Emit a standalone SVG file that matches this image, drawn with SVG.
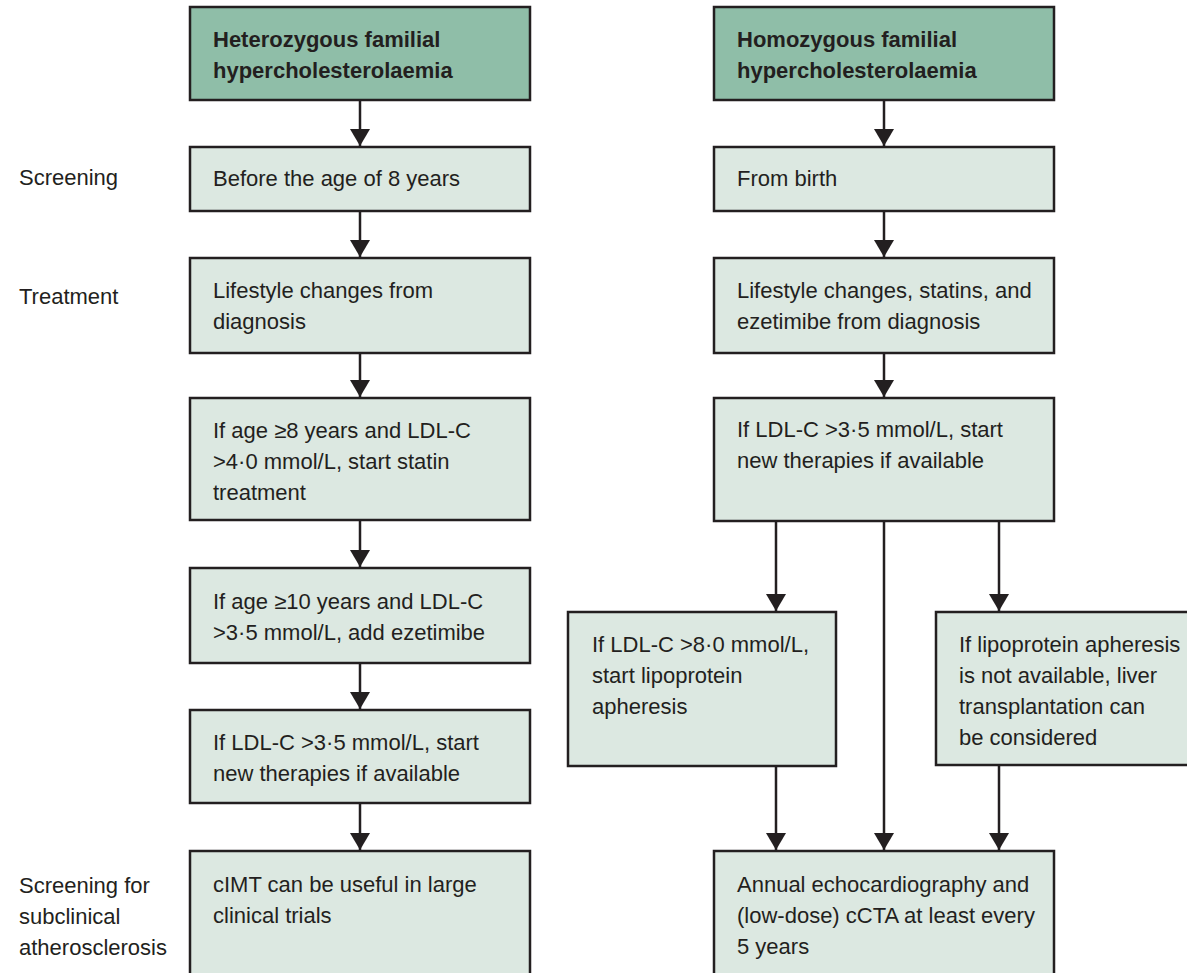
<svg xmlns="http://www.w3.org/2000/svg" width="1187" height="973" viewBox="0 0 1187 973">
<style>
  text { font-family: "Liberation Sans", Arial, sans-serif; font-size: 22px; fill: #231f20; }
  .hd { fill: #8fbea8; stroke: #231f20; stroke-width: 2.5; }
  .bx { fill: #dce8e1; stroke: #231f20; stroke-width: 2.5; }
  .b { font-weight: bold; }
  .ln { stroke: #231f20; stroke-width: 2.5; fill: none; }
</style>
<defs>
  <marker id="ah" markerUnits="userSpaceOnUse" markerWidth="17" markerHeight="20" refX="17" refY="10" orient="auto" viewBox="0 0 17 20">
    <path d="M0,0 L17,10 L0,20 Z" fill="#231f20"/>
  </marker>
</defs>
<rect width="1187" height="973" fill="#ffffff"/>

<g id="labels">
  <text x="19" y="185">Screening</text>
  <text x="19" y="304">Treatment</text>
  <text x="19" y="893">Screening for</text>
  <text x="19" y="924">subclinical</text>
  <text x="19" y="955">atherosclerosis</text>
</g>

<g id="connectors">
  <line class="ln" x1="360" y1="100" x2="360" y2="146" marker-end="url(#ah)"/>
  <line class="ln" x1="360" y1="211" x2="360" y2="257" marker-end="url(#ah)"/>
  <line class="ln" x1="360" y1="353" x2="360" y2="397" marker-end="url(#ah)"/>
  <line class="ln" x1="360" y1="520" x2="360" y2="567" marker-end="url(#ah)"/>
  <line class="ln" x1="360" y1="663" x2="360" y2="709" marker-end="url(#ah)"/>
  <line class="ln" x1="360" y1="803" x2="360" y2="850" marker-end="url(#ah)"/>
  <line class="ln" x1="884" y1="100" x2="884" y2="146" marker-end="url(#ah)"/>
  <line class="ln" x1="884" y1="211" x2="884" y2="257" marker-end="url(#ah)"/>
  <line class="ln" x1="884" y1="353" x2="884" y2="397" marker-end="url(#ah)"/>
  <line class="ln" x1="776" y1="521" x2="776" y2="611" marker-end="url(#ah)"/>
  <line class="ln" x1="999" y1="521" x2="999" y2="611" marker-end="url(#ah)"/>
  <line class="ln" x1="776" y1="766" x2="776" y2="850" marker-end="url(#ah)"/>
  <line class="ln" x1="884" y1="521" x2="884" y2="850" marker-end="url(#ah)"/>
  <line class="ln" x1="999" y1="765" x2="999" y2="850" marker-end="url(#ah)"/>
</g>

<g id="het-header">
  <rect class="hd" x="190" y="7" width="340" height="93"/>
  <text class="b" x="213" y="47">Heterozygous familial</text>
  <text class="b" x="213" y="78">hypercholesterolaemia</text>
</g>
<g id="het-screening">
  <rect class="bx" x="190" y="147" width="340" height="64"/>
  <text x="213" y="186">Before the age of 8 years</text>
</g>
<g id="het-lifestyle">
  <rect class="bx" x="190" y="258" width="340" height="95"/>
  <text x="213" y="298">Lifestyle changes from</text>
  <text x="213" y="329">diagnosis</text>
</g>
<g id="het-statin">
  <rect class="bx" x="190" y="398" width="340" height="122"/>
  <text x="213" y="438">If age ≥8 years and LDL-C</text>
  <text x="213" y="469">&gt;4·0 mmol/L, start statin</text>
  <text x="213" y="500">treatment</text>
</g>
<g id="het-ezetimibe">
  <rect class="bx" x="190" y="568" width="340" height="95"/>
  <text x="213" y="609">If age ≥10 years and LDL-C</text>
  <text x="213" y="640">&gt;3·5 mmol/L, add ezetimibe</text>
</g>
<g id="het-new">
  <rect class="bx" x="190" y="710" width="340" height="93"/>
  <text x="213" y="750">If LDL-C &gt;3·5 mmol/L, start</text>
  <text x="213" y="781">new therapies if available</text>
</g>
<g id="het-cimt">
  <rect class="bx" x="190" y="851" width="340" height="140"/>
  <text x="213" y="892">cIMT can be useful in large</text>
  <text x="213" y="923">clinical trials</text>
</g>

<g id="hom-header">
  <rect class="hd" x="714" y="7" width="340" height="93"/>
  <text class="b" x="737" y="47">Homozygous familial</text>
  <text class="b" x="737" y="78">hypercholesterolaemia</text>
</g>
<g id="hom-screening">
  <rect class="bx" x="714" y="147" width="340" height="64"/>
  <text x="737" y="186">From birth</text>
</g>
<g id="hom-lifestyle">
  <rect class="bx" x="714" y="258" width="340" height="95"/>
  <text x="737" y="298">Lifestyle changes, statins, and</text>
  <text x="737" y="329">ezetimibe from diagnosis</text>
</g>
<g id="hom-new">
  <rect class="bx" x="714" y="398" width="340" height="123"/>
  <text x="737" y="437">If LDL-C &gt;3·5 mmol/L, start</text>
  <text x="737" y="468">new therapies if available</text>
</g>
<g id="hom-apheresis">
  <rect class="bx" x="568" y="612" width="268" height="154"/>
  <text x="592" y="652">If LDL-C &gt;8·0 mmol/L,</text>
  <text x="592" y="683">start lipoprotein</text>
  <text x="592" y="714">apheresis</text>
</g>
<g id="hom-liver">
  <rect class="bx" x="936" y="612" width="270" height="153"/>
  <text x="959" y="652">If lipoprotein apheresis</text>
  <text x="959" y="683">is not available, liver</text>
  <text x="959" y="714">transplantation can</text>
  <text x="959" y="745">be considered</text>
</g>
<g id="hom-echo">
  <rect class="bx" x="714" y="851" width="340" height="140"/>
  <text x="737" y="892">Annual echocardiography and</text>
  <text x="737" y="923">(low-dose) cCTA at least every</text>
  <text x="737" y="954">5 years</text>
</g>
</svg>
